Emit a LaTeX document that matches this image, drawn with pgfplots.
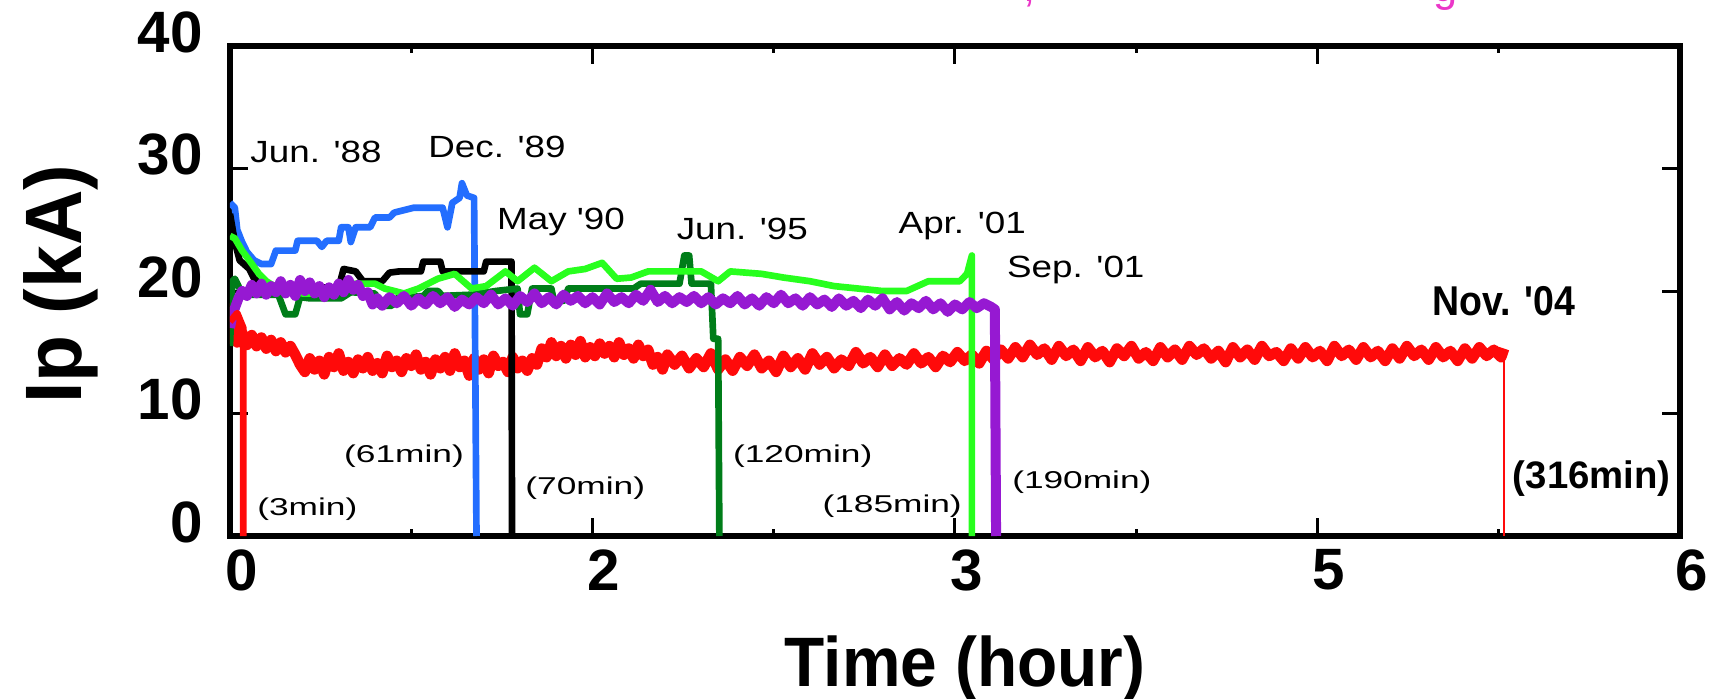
\documentclass[border=0pt]{standalone}
\usepackage{fontspec}
\setmainfont{Liberation Sans}
\usepackage{graphicx}
\usepackage{pgfplots}
\pgfplotsset{compat=1.18}
\usetikzlibrary{calc}
\definecolor{cred}{RGB}{255,10,10}
\definecolor{cblue}{RGB}{35,110,255}
\definecolor{cdgreen}{RGB}{0,125,25}
\definecolor{clgreen}{RGB}{40,255,30}
\definecolor{cpurple}{RGB}{150,25,210}
\definecolor{cmag}{RGB}{235,55,200}
\newcommand{\ann}[1]{\scalebox{1.2}[1]{\fontsize{9.2}{10}\selectfont #1}}
\newcommand{\annm}[1]{\scalebox{1.45}[1]{\fontsize{7.3}{8}\selectfont #1}}
\newcommand{\q}{\textquotesingle}
\begin{document}
\begin{tikzpicture}
\begin{axis}[
 name=ax, at={(0,0)}, anchor=south west,
 scale only axis, width=435pt, height=147pt,
 xmin=0, xmax=6, ymin=0, ymax=40,
 xtick={0,1.5,3,4.5,6}, xticklabels={0,2,3,5,6},
 minor xtick={0.75,2.25,3.75,5.25},
 ytick={0,10,20,30,40},
 tick align=inside,
 major tick length=5.5pt, minor tick length=2pt,
 tick style={black, line width=0.9pt},
 axis line style={line width=2pt},
 /pgf/number format/assume math mode=true,
 ticklabel style={font=\bfseries\fontsize{17.5}{18}\selectfont},
 xticklabel style={yshift=-0.5pt, xshift=3.5pt},
 yticklabel style={xshift=-4.7pt, yshift=4.2pt},
 xlabel={\scalebox{0.94}[1]{\bfseries\fontsize{21}{22}\selectfont Time (hour)}},
 ylabel={\scalebox{0.96}[1]{\bfseries\fontsize{24}{25}\selectfont Ip (kA)}},
 xlabel style={at={(axis description cs:0.507,-0.308)}, anchor=base},
 ylabel style={at={(axis description cs:-0.117,0.514)}, anchor=center, rotate=0},
 clip mode=individual,
 every axis plot/.append style={line width=2pt, line join=round},
]
% Nov '04 (316 min)
\addplot[cred, line width=3.2pt] coordinates {
(0.000,19.0)(0.010,16.0)(0.020,17.5)(0.030,15.8)(0.050,16.6)(0.070,15.6)(0.090,16.4)(0.110,15.5)(0.130,16.2)(0.150,15.3)
(0.170,16.0)(0.190,15.1)(0.210,15.8)(0.230,15.0)(0.250,15.5)(0.270,14.8)(0.290,14.0)(0.310,13.4)(0.330,14.5)(0.350,13.6)
(0.370,14.3)(0.390,13.2)(0.410,14.6)(0.430,13.8)(0.450,14.9)(0.470,13.5)(0.490,14.2)(0.510,13.3)(0.530,14.4)(0.550,13.7)
(0.570,14.6)(0.590,13.5)(0.610,14.1)(0.630,13.3)(0.650,14.7)(0.670,13.8)(0.690,14.3)(0.710,13.4)(0.730,14.5)(0.750,13.9)
(0.770,14.8)(0.790,13.6)(0.810,14.2)(0.830,13.2)(0.850,14.4)(0.870,13.7)(0.890,14.6)(0.910,13.5)(0.930,14.9)(0.950,13.8)
(0.970,14.3)(0.990,13.1)(1.010,14.5)(1.030,13.6)(1.050,14.4)(1.070,13.3)(1.090,14.7)(1.110,13.9)(1.130,14.2)(1.150,13.4)
(1.170,14.6)(1.190,13.7)(1.210,14.3)(1.230,13.5)(1.250,14.5)(1.270,14.0)(1.290,15.3)(1.310,14.6)(1.330,15.8)(1.350,14.7)
(1.370,15.5)(1.390,14.5)(1.410,15.6)(1.430,14.8)(1.450,15.9)(1.470,14.6)(1.490,15.4)(1.510,14.7)(1.530,15.7)(1.550,14.9)
(1.570,15.5)(1.590,14.6)(1.610,15.8)(1.630,14.8)(1.650,15.3)(1.670,14.5)(1.690,15.6)(1.710,14.7)(1.730,15.2)(1.750,14.0)
(1.770,14.6)(1.790,13.6)(1.810,14.8)(1.84,14.0)(1.87,14.7)(1.90,13.7)(1.93,14.5)(1.96,13.8)(1.99,14.9)(2.02,13.6)
(2.05,14.4)(2.08,13.5)(2.11,14.6)(2.14,13.9)(2.17,14.8)(2.20,13.7)(2.23,14.3)(2.26,13.4)(2.29,14.7)(2.32,13.8)
(2.35,14.5)(2.38,13.6)(2.41,14.9)(2.44,14.0)(2.47,14.6)(2.50,13.7)(2.53,14.4)(2.56,13.9)(2.59,15.0)(2.62,14.1)
(2.65,14.6)(2.68,13.8)(2.71,14.8)(2.74,13.9)(2.77,14.5)(2.80,14.0)(2.83,14.9)(2.86,14.1)(2.89,14.6)(2.92,13.8)
(2.95,14.7)(2.98,14.2)(3.01,15.0)(3.04,14.3)(3.07,14.8)(3.10,14.1)(3.13,15.1)(3.16,14.4)(3.19,15.2)(3.22,14.5)
(3.25,15.4)(3.28,14.6)(3.31,15.6)(3.34,14.8)(3.37,15.3)(3.40,14.4)(3.43,15.5)(3.46,14.7)(3.49,15.2)(3.52,14.3)
(3.55,15.4)(3.58,14.6)(3.61,15.1)(3.64,14.2)(3.67,15.3)(3.70,14.7)(3.73,15.5)(3.76,14.5)(3.79,15.0)(3.82,14.3)
(3.85,15.4)(3.88,14.6)(3.91,15.2)(3.94,14.4)(3.97,15.5)(4.00,14.8)(4.03,15.3)(4.06,14.5)(4.09,15.1)(4.12,14.2)
(4.15,15.4)(4.18,14.6)(4.21,15.2)(4.24,14.4)(4.27,15.5)(4.30,14.7)(4.33,15.0)(4.36,14.3)(4.39,15.3)(4.42,14.5)
(4.45,15.4)(4.48,14.6)(4.51,15.1)(4.54,14.3)(4.57,15.5)(4.60,14.7)(4.63,15.2)(4.66,14.4)(4.69,15.4)(4.72,14.6)
(4.75,15.1)(4.78,14.3)(4.81,15.3)(4.84,14.5)(4.87,15.5)(4.90,14.7)(4.93,15.2)(4.96,14.4)(4.99,15.4)(5.02,14.6)
(5.05,15.1)(5.08,14.3)(5.11,15.3)(5.14,14.5)(5.17,15.4)(5.20,14.7)(5.23,15.2)(5.26,14.6)(5.272,15.3)};
\addplot[cred, line width=0.6pt] coordinates {(5.272,15.3)(5.272,0)};
% Dec '89 (61 min)
\addplot[cblue] coordinates {
(0,27.2)(0.02,26.8)(0.03,25)(0.05,24)(0.07,23.2)(0.1,22.5)(0.13,22.2)(0.17,22.2)(0.19,23.3)(0.27,23.3)(0.28,24.1)
(0.36,24.1)(0.38,23.6)(0.4,24.1)(0.45,24.1)(0.46,25.2)(0.49,25.2)(0.5,24.0)(0.52,25.2)(0.58,25.2)(0.6,26)(0.66,26)
(0.68,26.4)(0.76,26.8)(0.88,26.8)(0.9,25.2)(0.92,27.2)(0.95,27.6)(0.96,28.8)(0.98,27.8)(1.01,27.6)(1.02,0)};
% May '90 (70 min)
\addplot[black] coordinates {
(0,26.3)(0.02,24)(0.04,22.5)(0.08,21.8)(0.1,21)(0.15,20.3)(0.45,20.3)(0.47,21.8)(0.52,21.6)(0.55,20.8)(0.63,20.8)
(0.66,21.5)(0.7,21.6)(0.79,21.6)(0.8,22.4)(0.87,22.4)(0.88,21.6)(1.05,21.6)(1.06,22.4)(1.165,22.4)(1.167,0)};
% Jun '95 (120 min)
\addplot[cdgreen] coordinates {
(0,15.5)(0.01,20.8)(0.02,21)(0.04,20.2)(0.06,19.7)(0.2,19.7)(0.23,18.1)(0.27,18.1)(0.29,19.5)(0.33,19.4)(0.46,19.4)
(0.5,19.9)(0.6,19.8)(0.62,18.8)(0.67,18.8)(0.69,19.4)(0.8,19.6)(0.82,20)(0.86,20)(0.88,19.6)(1.0,19.7)(1.1,20)
(1.19,20.2)(1.2,18.1)(1.23,18.1)(1.25,20.2)(1.33,20.2)(1.34,19.2)(1.38,19.2)(1.4,20.2)(1.67,20.2)(1.7,20.6)
(1.86,20.6)(1.88,22.9)(1.9,22.9)(1.91,20.6)(1.99,20.6)(2.0,16.1)(2.02,16.1)(2.025,0)};
% Apr '01 (185 min)
\addplot[clgreen] coordinates {
(0,24.5)(0.02,24.3)(0.05,23.3)(0.08,22.5)(0.12,21.4)(0.15,20.8)(0.2,20.2)(0.3,19.8)(0.38,19.8)(0.45,20.3)(0.52,20.6)
(0.6,20.6)(0.64,20.2)(0.72,19.8)(0.78,20.2)(0.86,21)(0.93,21.4)(1.0,20.2)(1.06,20.4)(1.14,21.6)(1.19,20.8)(1.26,21.9)
(1.33,20.8)(1.4,21.6)(1.47,21.8)(1.54,22.3)(1.6,21)(1.66,21.1)(1.73,21.6)(1.95,21.6)(2.02,20.8)(2.07,21.6)(2.2,21.4)
(2.29,21.1)(2.4,20.8)(2.5,20.4)(2.6,20.2)(2.7,20)(2.8,20)(2.89,20.8)(3.02,20.8)(3.05,21.4)(3.07,22.9)(3.07,0)};
% Sep '01 (190 min)
\addplot[cpurple, line width=3pt] coordinates {
(0,17.0)(0.01,18.0)(0.02,18.6)(0.035,19.4)(0.05,20.0)(0.07,19.6)(0.09,20.5)(0.11,19.8)(0.13,20.6)(0.15,19.7)(0.17,20.4)
(0.19,19.9)(0.21,20.8)(0.23,19.8)(0.25,20.5)(0.27,19.6)(0.29,20.9)(0.31,20.0)(0.33,20.7)(0.35,19.8)(0.37,20.4)(0.39,19.5)
(0.41,20.3)(0.43,19.7)(0.45,20.6)(0.47,19.9)(0.49,20.9)(0.51,20.1)(0.53,20.5)(0.55,19.6)(0.57,19.9)(0.59,18.9)(0.61,19.4)
(0.63,18.8)(0.66,19.5)(0.69,19.0)(0.72,19.6)(0.75,18.8)(0.78,19.4)(0.81,18.9)(0.84,19.6)(0.87,19.0)(0.90,19.5)(0.93,18.7)
(0.96,19.3)(0.99,18.9)(1.02,19.5)(1.05,19.0)(1.08,19.7)(1.11,18.9)(1.14,19.4)(1.17,18.8)(1.20,19.6)(1.23,19.1)(1.26,19.8)
(1.29,19.0)(1.32,19.5)(1.35,18.9)(1.38,19.7)(1.41,19.2)(1.44,19.6)(1.47,19.0)(1.50,19.5)(1.53,18.9)(1.56,19.8)(1.59,19.1)
(1.62,19.5)(1.65,19.0)(1.68,19.7)(1.71,19.2)(1.74,20.1)(1.77,19.1)(1.80,19.6)(1.83,19.0)(1.86,19.5)(1.89,19.1)(1.92,19.6)
(1.95,19.0)(1.98,19.5)(2.01,18.9)(2.04,19.4)(2.07,19.0)(2.10,19.6)(2.13,18.9)(2.16,19.4)(2.19,18.8)(2.22,19.5)(2.25,19.0)
(2.28,19.7)(2.31,19.0)(2.34,19.4)(2.37,18.8)(2.40,19.5)(2.43,18.9)(2.46,19.3)(2.49,18.7)(2.52,19.4)(2.55,18.8)(2.58,19.2)
(2.61,18.6)(2.64,19.3)(2.67,18.8)(2.70,19.4)(2.73,18.5)(2.76,19.1)(2.79,18.4)(2.82,19.0)(2.85,18.6)(2.88,19.2)(2.91,18.5)
(2.94,19.0)(2.97,18.3)(3.00,18.9)(3.03,18.5)(3.06,19.1)(3.09,18.6)(3.12,19.0)(3.15,18.7)(3.165,18.5)(3.17,0)};
% Jun '88 (3 min)
\addplot[cred] coordinates {(0,17.5)(0.03,18.2)(0.055,17.0)(0.055,0)};
% annotations
\node[anchor=base] at (axis cs:0.356,30.5) {\ann{Jun. \q88}};
\node[anchor=base] at (axis cs:1.105,30.9) {\ann{Dec. \q89}};
\node[anchor=base] at (axis cs:1.37,25.0) {\ann{May \q90}};
\node[anchor=base] at (axis cs:2.12,24.2) {\ann{Jun. \q95}};
\node[anchor=base] at (axis cs:3.03,24.7) {\ann{Apr. \q01}};
\node[anchor=base] at (axis cs:3.5,21.1) {\ann{Sep. \q01}};
\node[anchor=base] at (axis cs:5.27,18.0) {\scalebox{0.9}[1]{\bfseries\fontsize{12.5}{13}\selectfont Nov. \q04}};
\node[anchor=base] at (axis cs:0.32,1.7) {\annm{(3min)}};
\node[anchor=base] at (axis cs:0.72,6.0) {\annm{(61min)}};
\node[anchor=base] at (axis cs:1.47,3.35) {\annm{(70min)}};
\node[anchor=base] at (axis cs:2.37,6.0) {\annm{(120min)}};
\node[anchor=base] at (axis cs:2.74,1.9) {\annm{(185min)}};
\node[anchor=base] at (axis cs:3.525,3.9) {\annm{(190min)}};
\node[anchor=base] at (axis cs:5.635,3.9) {\bfseries\fontsize{11.5}{12}\selectfont (316min)};
% fragments of the cut-off title
\node[anchor=base, text=cmag, font=\fontsize{13}{14}\selectfont] at (axis cs:3.31,43.6) {,};
\node[anchor=base, text=cmag, font=\fontsize{13}{14}\selectfont] at (axis cs:5.03,43.6) {g};
\end{axis}
\pgfresetboundingbox
\path[use as bounding box] ($(ax.south west)+(-69pt,-48.6pt)$) rectangle ($(ax.south west)+(446.1pt,160.8pt)$);
\end{tikzpicture}
\end{document}
